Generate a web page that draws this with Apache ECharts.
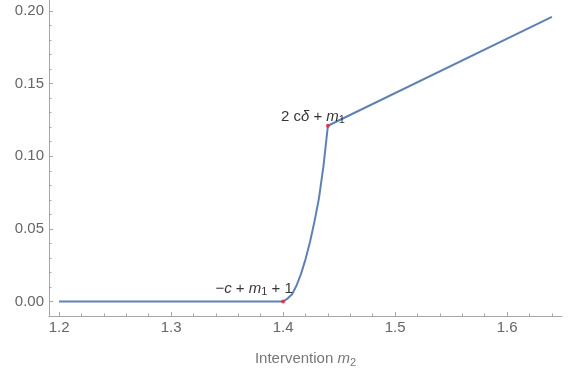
<!DOCTYPE html>
<html>
<head>
<meta charset="utf-8">
<script src="https://cdn.jsdelivr.net/npm/echarts@6/dist/echarts.min.js"></script>
<style>
html,body{margin:0;padding:0;background:#fff;}
#chart{width:575px;height:373px;}
</style>
</head>
<body>
<div id="chart"></div>
<script>
// Curve: intervention m2 -> value
const curveX = [1.2, 1.4, 1.404, 1.408, 1.412, 1.416, 1.420, 1.424, 1.428, 1.432, 1.436, 1.44, 1.64];
const curveY = [0, 0, 0.002, 0.005, 0.011, 0.019, 0.029, 0.041, 0.055, 0.071, 0.093, 0.121, 0.196];
// Marked points
const pointX = [1.4, 1.44];
const pointY = [0, 0.121];
const pointLabels = [
  '{n|\u2212}{i|c}{n| + }{i|m}{s|1}{n| + 1}',
  '{n|2 c}{i|\u03b4}{n| + }{i|m}{s|1}'
];
// Ticks
const xMajorTicks = [1.2, 1.3, 1.4, 1.5, 1.6];
const xMinorTicks = [1.22, 1.24, 1.26, 1.28, 1.32, 1.34, 1.36, 1.38, 1.42, 1.44, 1.46, 1.48, 1.52, 1.54, 1.56, 1.58, 1.62, 1.64];
const yMajorTicks = [0, 0.05, 0.10, 0.15, 0.20];
const yMinorTicks = [0.01, 0.02, 0.03, 0.04, 0.06, 0.07, 0.08, 0.09, 0.11, 0.12, 0.13, 0.14, 0.16, 0.17, 0.18, 0.19];

const xMin = 1.191, xMax = 1.649, yMin = -0.0100, yMax = 0.2076;
const axisColor = '#a6a6a6';
const labelColor = '#666666';
const font = 'Liberation Sans';

const chart = echarts.init(document.getElementById('chart'), null, {renderer: 'canvas'});

function xAxisDef(major) {
  return {
    type: 'value', min: xMin, max: xMax, position: 'bottom',
    name: major ? 'Intervention {i|m}{s|2}' : '',
    nameLocation: 'middle', nameGap: 34,
    nameTextStyle: {
      color: '#777', fontFamily: font, fontSize: 15,
      rich: {
        i: {fontStyle: 'italic', color: '#777', fontFamily: font, fontSize: 15},
        s: {fontSize: 11, color: '#777', fontFamily: font, padding: [7, 0, 0, 0]}
      }
    },
    axisLine: {show: major, onZero: false, lineStyle: {color: axisColor, width: 1}},
    axisTick: {show: true, inside: true, length: major ? 4 : 2.5,
      customValues: major ? xMajorTicks : xMinorTicks,
      lineStyle: {color: axisColor, width: 1}},
    axisLabel: {show: major, customValues: xMajorTicks, color: labelColor, fontFamily: font, fontSize: 15, margin: 4,
      formatter: v => v.toFixed(1)},
    splitLine: {show: false}
  };
}
function yAxisDef(major) {
  return {
    type: 'value', min: yMin, max: yMax, position: 'left',
    axisLine: {show: major, onZero: false, lineStyle: {color: axisColor, width: 1}},
    axisTick: {show: true, inside: true, length: major ? 4 : 2.5,
      customValues: major ? yMajorTicks : yMinorTicks,
      lineStyle: {color: axisColor, width: 1}},
    axisLabel: {show: major, customValues: yMajorTicks, color: labelColor, fontFamily: font, fontSize: 15, margin: 5,
      formatter: v => v.toFixed(2)},
    splitLine: {show: false}
  };
}

const richLabel = {
  n: {fontFamily: font, fontSize: 15, color: '#000'},
  i: {fontFamily: font, fontSize: 15, color: '#000', fontStyle: 'italic'},
  s: {fontFamily: font, fontSize: 11, color: '#000', padding: [7, 0, 0, 0]}
};
const labelOffsets = [[-29, -13], [-15, -9]];

chart.setOption({
  animation: false,
  grid: {left: 49, right: 13, top: 0, bottom: 57, containLabel: false},
  xAxis: [xAxisDef(true), xAxisDef(false)],
  yAxis: [yAxisDef(true), yAxisDef(false)],
  series: [
    {
      type: 'line', xAxisIndex: 0, yAxisIndex: 0,
      data: curveX.map((x, i) => [x, curveY[i]]),
      showSymbol: false, smooth: false,
      lineStyle: {color: '#5E81B5', width: 2},
      z: 2
    },
    {
      type: 'scatter', xAxisIndex: 0, yAxisIndex: 0,
      symbolSize: 4,
      itemStyle: {color: '#e8262a'},
      z: 3,
      data: pointX.map((x, i) => ({
        value: [x, pointY[i]],
        label: {
          show: true, position: 'inside', align: 'center', verticalAlign: 'middle',
          offset: labelOffsets[i],
          formatter: pointLabels[i],
          rich: richLabel
        }
      }))
    }
  ]
});
</script>
</body>
</html>
